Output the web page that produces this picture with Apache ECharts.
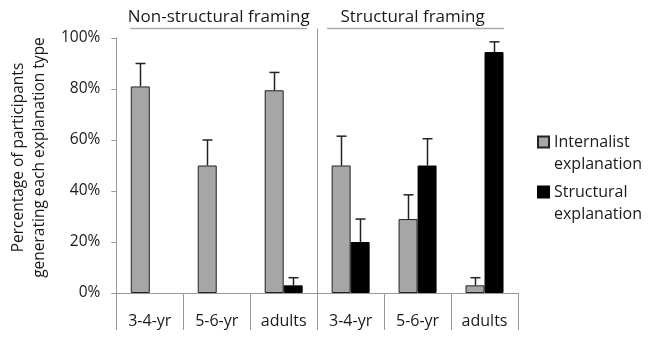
<!DOCTYPE html>
<html><head><meta charset="utf-8">
<script src="https://cdn.jsdelivr.net/npm/echarts@6/dist/echarts.min.js"></script>
<style>html,body{margin:0;padding:0;background:#fff}#c{width:656px;height:337px}</style>
</head><body><div id="c"></div>
<script>
var categories = ['3-4-yr', '5-6-yr', 'adults', '3-4-yr', '5-6-yr', 'adults'];
var groupNames = ['Non-structural framing', 'Structural framing'];
var seriesNames = ['Internalist explanation', 'Structural explanation'];
var internalist = [81, 50, 79.5, 50, 29, 3];
var internalistErr = [9, 10, 7, 11.5, 9.5, 3];
var structural = [null, null, 3, 20, 50, 94.5];
var structuralErr = [null, null, 3, 9, 10.5, 4];
var yTicks = [0, 20, 40, 60, 80, 100];

var FONT = 'Open Sans';
var TXT = '#1a1a1a';
var BW = 19;
var chart = echarts.init(document.getElementById('c'));

function errData(vals, errs) {
  var out = [];
  for (var i = 0; i < vals.length; i++) {
    if (vals[i] != null && errs[i] != null) out.push([i, vals[i], errs[i]]);
  }
  return out;
}
function errRender(sign) {
  return function (params, api) {
    var i = api.value(0), v = api.value(1), e = api.value(2);
    var p0 = api.coord([i, v]);
    var p1 = api.coord([i, v + e]);
    var x = Math.round(p0[0] + sign * BW / 2) + 0.5;
    var st = { stroke: '#222', lineWidth: 1.5 };
    return {
      type: 'group',
      children: [
        { type: 'line', shape: { x1: x, y1: p0[1], x2: x, y2: p1[1] }, style: st },
        { type: 'line', shape: { x1: x - 5, y1: p1[1], x2: x + 5, y2: p1[1] }, style: st }
      ]
    };
  };
}

var option = {
  animation: false,
  textStyle: { fontFamily: FONT },
  grid: { left: 114, right: 138, top: 38, bottom: 44 },
  legend: {
    orient: 'vertical', left: 532, top: 126,
    itemWidth: 11, itemHeight: 33, itemGap: 6,
    icon: 'path://M0,0H11V11H0ZM0,33',
    data: seriesNames,
    formatter: function (n) { return n.replace(' ', '\n'); },
    textStyle: { fontFamily: FONT, fontSize: 16, lineHeight: 22, color: TXT }
  },
  xAxis: {
    type: 'category', data: categories,
    axisLine: { lineStyle: { color: '#999', width: 1 } },
    axisTick: { show: true, interval: 0, length: 37, lineStyle: { color: '#999' } },
    axisLabel: { interval: 0, fontSize: 16, color: TXT, margin: 20 }
  },
  yAxis: {
    type: 'value', min: yTicks[0], max: yTicks[yTicks.length - 1], interval: 20,
    axisLine: { show: true, lineStyle: { color: '#999' } },
    axisTick: { show: true, length: 5, lineStyle: { color: '#999' } },
    splitLine: { show: false },
    axisLabel: { formatter: '{value}%', fontSize: 15.5, color: TXT, margin: 16 },
    name: 'Percentage of participants\ngenerating each explanation type',
    nameLocation: 'middle', nameGap: 52,
    nameTextStyle: { fontFamily: FONT, fontSize: 15.5, lineHeight: 21, color: TXT, padding: [0, 0, 0, 16] }
  },
  series: [
    { name: seriesNames[0], type: 'bar', data: internalist, barWidth: BW, barGap: 0,
      itemStyle: { color: '#a6a6a6', borderColor: '#222', borderWidth: 1 } },
    { name: seriesNames[1], type: 'bar', data: structural, barWidth: BW, barGap: 0,
      itemStyle: { color: '#000', borderColor: '#000', borderWidth: 1 } },
    { type: 'custom', data: errData(internalist, internalistErr), renderItem: errRender(-1), z: 5 },
    { type: 'custom', data: errData(structural, structuralErr), renderItem: errRender(1), z: 5 }
  ]
};
chart.setOption(option);

var c0 = chart.convertToPixel({ xAxisIndex: 0 }, 0);
var c1 = chart.convertToPixel({ xAxisIndex: 0 }, 1);
var w = c1 - c0;
var L = c0 - w / 2, M = L + 3 * w, R = L + 6 * w;
var yTop = chart.convertToPixel({ yAxisIndex: 0 }, 100);
var yBot = chart.convertToPixel({ yAxisIndex: 0 }, 0);
var ul = yTop - 9.5;
var divX = Math.round(M) + 0.5;
chart.setOption({
  graphic: [
    { type: 'text', x: (L + M) / 2 + 2, y: ul - 11, style: { text: groupNames[0], font: '17px "' + FONT + '"', fill: TXT, textAlign: 'center', textVerticalAlign: 'middle' } },
    { type: 'text', x: (M + R) / 2 - 5, y: ul - 11, style: { text: groupNames[1], font: '17px "' + FONT + '"', fill: TXT, textAlign: 'center', textVerticalAlign: 'middle' } },
    { type: 'line', shape: { x1: L + 14, y1: ul, x2: M - 10, y2: ul }, style: { stroke: '#aaa', lineWidth: 1.5 } },
    { type: 'line', shape: { x1: M + 10, y1: ul, x2: R - 14, y2: ul }, style: { stroke: '#aaa', lineWidth: 1.5 } },
    { type: 'line', shape: { x1: divX, y1: ul, x2: divX, y2: yBot + 37 }, style: { stroke: '#999', lineWidth: 1 } }
  ]
});
</script></body></html>
